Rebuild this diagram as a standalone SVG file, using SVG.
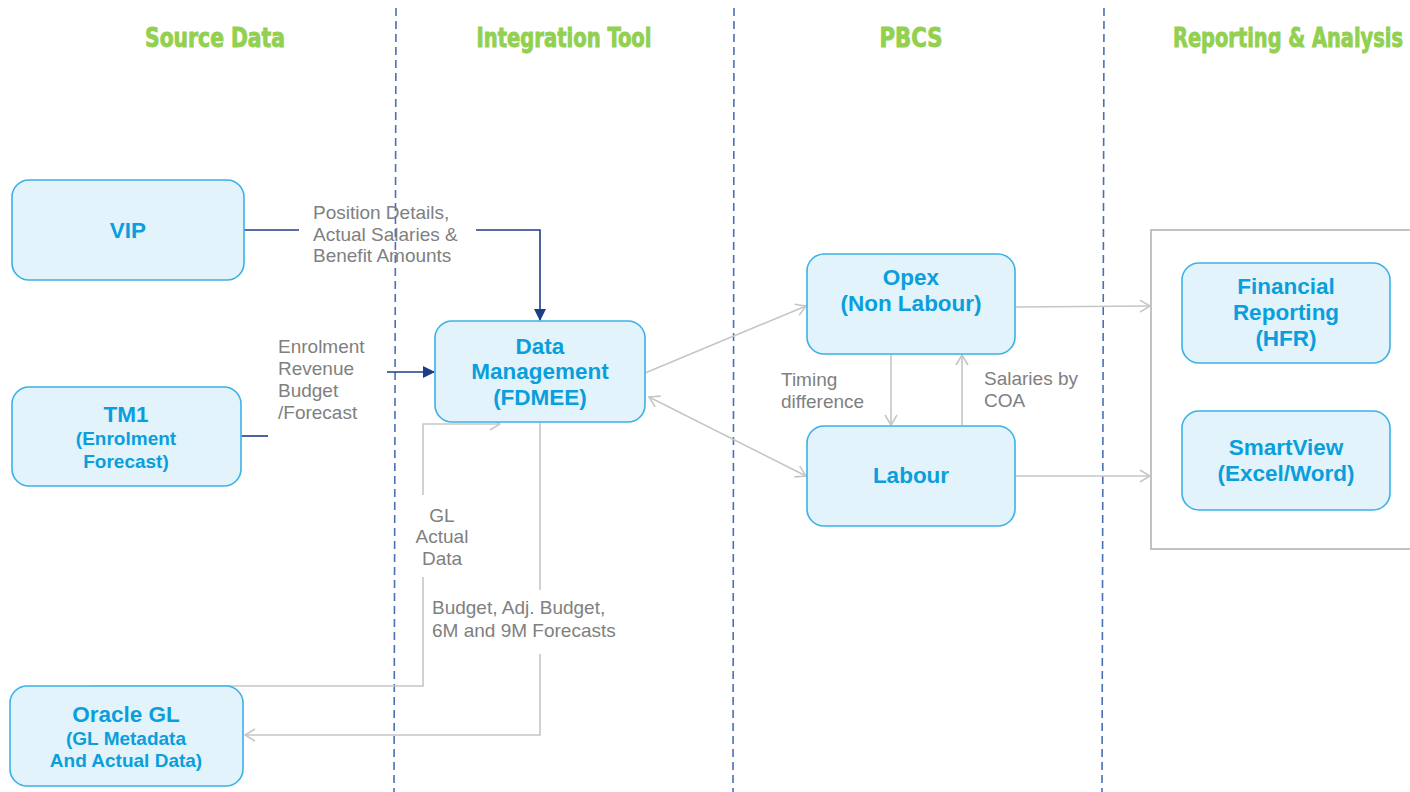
<svg xmlns="http://www.w3.org/2000/svg" width="1410" height="792" viewBox="0 0 1410 792">
  <style>
    .lane { stroke: #4a6fb5; stroke-width: 1.6; stroke-dasharray: 8 5; fill: none; }
    .head { font-family: "DejaVu Sans Condensed", "Liberation Sans", sans-serif; font-weight: bold; font-size: 27px; fill: #92d050; stroke: #92d050; stroke-width: 0.9; text-anchor: middle; }
    .box { fill: #e2f3fb; stroke: #3cb1e6; stroke-width: 1.6; }
    .t { font-family: "Liberation Sans", Arial, sans-serif; font-weight: bold; font-size: 22.5px; fill: #0a9fdc; text-anchor: middle; }
    .s { font-family: "Liberation Sans", Arial, sans-serif; font-weight: bold; font-size: 19px; fill: #0a9fdc; text-anchor: middle; }
    .lbl { font-family: "Liberation Sans", Arial, sans-serif; font-size: 19px; fill: #808080; }
    .gray { stroke: #c6c6c6; stroke-width: 1.6; fill: none; }
    .navy { stroke: #1f3c88; stroke-width: 1.6; fill: none; }
    .frame { fill: none; stroke: #b3b3b3; stroke-width: 1.6; }
  </style>
  <defs>
    <marker id="open" viewBox="0 0 12 14" refX="11" refY="7" markerWidth="12" markerHeight="14" markerUnits="userSpaceOnUse" orient="auto-start-reverse">
      <path d="M1 1 L11 7 L1 13" fill="none" stroke="#c6c6c6" stroke-width="1.6"/>
    </marker>
    <marker id="solid" viewBox="0 0 12 12" refX="11" refY="6" markerWidth="12" markerHeight="12" markerUnits="userSpaceOnUse" orient="auto">
      <path d="M0 0 L12 6 L0 12 Z" fill="#1f3c88"/>
    </marker>
  </defs>

  <rect width="1410" height="792" fill="#ffffff"/>

  <!-- swim lane separators -->
  <g id="lanes">
    <line class="lane" x1="396" y1="8" x2="394" y2="792"/>
    <line class="lane" x1="734" y1="8" x2="733" y2="792"/>
    <line class="lane" x1="1104" y1="8" x2="1102" y2="792"/>
  </g>

  <!-- lane headings -->
  <g id="headings">
    <text class="head" x="215" y="47" textLength="140" lengthAdjust="spacingAndGlyphs">Source Data</text>
    <text class="head" x="564" y="47" textLength="175" lengthAdjust="spacingAndGlyphs">Integration Tool</text>
    <text class="head" x="911" y="47" textLength="63" lengthAdjust="spacingAndGlyphs">PBCS</text>
    <text class="head" x="1288" y="47" textLength="230" lengthAdjust="spacingAndGlyphs">Reporting &amp; Analysis</text>
  </g>

  <!-- reporting container -->
  <rect id="reporting-frame" class="frame" x="1151" y="230" width="300" height="319"/>

  <!-- connectors -->
  <g id="connectors">
    <!-- VIP to Data Management -->
    <line class="navy" x1="244" y1="230" x2="299" y2="230"/>
    <path class="navy" d="M476 230 H540 V320" marker-end="url(#solid)"/>
    <!-- TM1 to Data Management -->
    <line class="navy" x1="241" y1="436" x2="268" y2="436" stroke="#4a6090"/>
    <line class="navy" x1="387" y1="372" x2="434" y2="372" marker-end="url(#solid)"/>
    <!-- Data Management to Opex -->
    <line class="gray" x1="645" y1="373" x2="806" y2="306" marker-end="url(#open)"/>
    <!-- Data Management and Labour -->
    <line class="gray" x1="649" y1="397" x2="806" y2="476" marker-start="url(#open)" marker-end="url(#open)"/>
    <!-- Opex and Labour -->
    <line class="gray" x1="891" y1="354" x2="891" y2="425" marker-end="url(#open)"/>
    <line class="gray" x1="962" y1="425" x2="962" y2="355" marker-end="url(#open)"/>
    <!-- PBCS to reporting -->
    <line class="gray" x1="1015" y1="307" x2="1150" y2="306" marker-end="url(#open)"/>
    <line class="gray" x1="1015" y1="476" x2="1150" y2="476" marker-end="url(#open)"/>
    <!-- GL actual data -->
    <path class="gray" d="M90 686 H423 V577"/>
    <path class="gray" d="M423 495 V424 H500" marker-end="url(#open)"/>
    <!-- Budget and forecasts back to Oracle GL -->
    <line class="gray" x1="540" y1="422" x2="540" y2="590"/>
    <path class="gray" d="M540 654 V735 H245" marker-end="url(#open)"/>
  </g>

  <!-- connector labels -->
  <g id="labels">
    <text class="lbl" x="313" y="219">Position Details,</text>
    <text class="lbl" x="313" y="241">Actual Salaries &amp;</text>
    <text class="lbl" x="313" y="262">Benefit Amounts</text>
    <text class="lbl" x="278" y="353">Enrolment</text>
    <text class="lbl" x="278" y="375">Revenue</text>
    <text class="lbl" x="278" y="397">Budget</text>
    <text class="lbl" x="278" y="419">/Forecast</text>
    <text class="lbl" x="442" y="522" text-anchor="middle">GL</text>
    <text class="lbl" x="442" y="543" text-anchor="middle">Actual</text>
    <text class="lbl" x="442" y="565" text-anchor="middle">Data</text>
    <text class="lbl" x="432" y="614">Budget, Adj. Budget,</text>
    <text class="lbl" x="432" y="637">6M and 9M Forecasts</text>
    <text class="lbl" x="781" y="386">Timing</text>
    <text class="lbl" x="781" y="408">difference</text>
    <text class="lbl" x="984" y="385">Salaries by</text>
    <text class="lbl" x="984" y="407">COA</text>
  </g>

  <!-- nodes -->
  <g id="vip">
    <rect class="box" x="12" y="180" width="232" height="100" rx="17"/>
    <text class="t" x="128" y="238">VIP</text>
  </g>
  <g id="tm1">
    <rect class="box" x="12" y="387" width="229" height="99" rx="17"/>
    <text class="t" x="126" y="422">TM1</text>
    <text class="s" x="126" y="445">(Enrolment</text>
    <text class="s" x="126" y="468">Forecast)</text>
  </g>
  <g id="oracle-gl">
    <rect class="box" x="10" y="686" width="233" height="100" rx="17"/>
    <text class="t" x="126" y="722">Oracle GL</text>
    <text class="s" x="126" y="745">(GL Metadata</text>
    <text class="s" x="126" y="767">And Actual Data)</text>
  </g>
  <g id="data-management">
    <rect class="box" x="435" y="321" width="210" height="101" rx="17"/>
    <text class="t" x="540" y="354">Data</text>
    <text class="t" x="540" y="379">Management</text>
    <text class="t" x="540" y="405">(FDMEE)</text>
  </g>
  <g id="opex">
    <rect class="box" x="807" y="254" width="208" height="100" rx="17"/>
    <text class="t" x="911" y="285">Opex</text>
    <text class="t" x="911" y="311">(Non Labour)</text>
  </g>
  <g id="labour">
    <rect class="box" x="807" y="426" width="208" height="100" rx="17"/>
    <text class="t" x="911" y="483">Labour</text>
  </g>
  <g id="financial-reporting">
    <rect class="box" x="1182" y="263" width="208" height="100" rx="17"/>
    <text class="t" x="1286" y="294">Financial</text>
    <text class="t" x="1286" y="320">Reporting</text>
    <text class="t" x="1286" y="346">(HFR)</text>
  </g>
  <g id="smartview">
    <rect class="box" x="1182" y="411" width="208" height="99" rx="17"/>
    <text class="t" x="1286" y="455">SmartView</text>
    <text class="t" x="1286" y="481">(Excel/Word)</text>
  </g>
</svg>
